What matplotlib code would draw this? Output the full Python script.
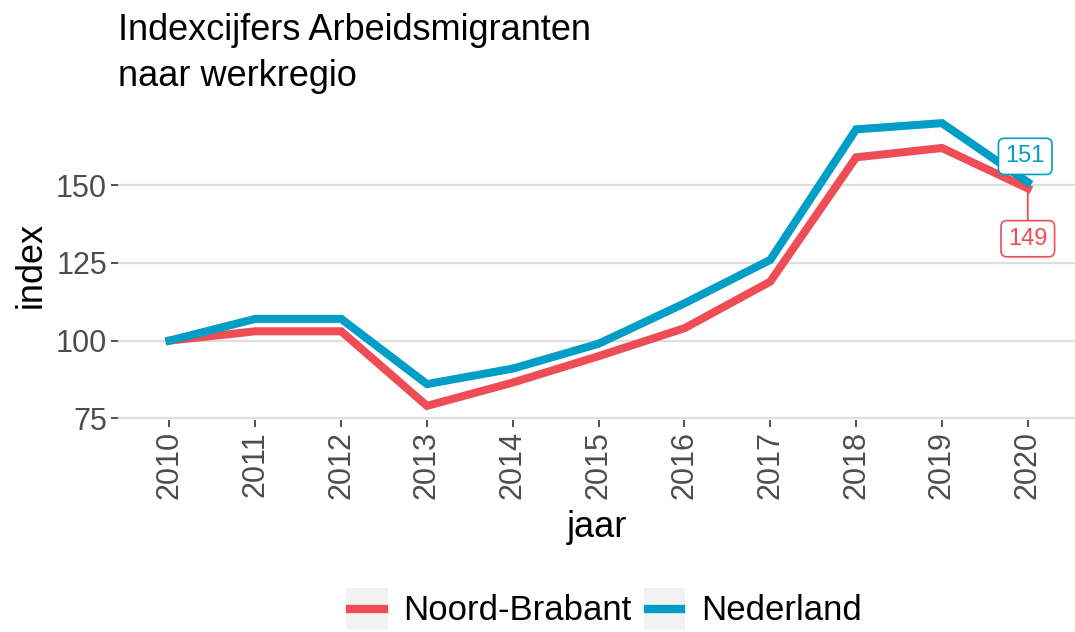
import numpy as np
import matplotlib
matplotlib.use('Agg')
from matplotlib import pyplot as plt
from matplotlib.lines import Line2D
from matplotlib.patches import Rectangle
from matplotlib.legend_handler import HandlerBase

plt.rcParams['font.family'] = ['Liberation Sans', 'DejaVu Sans']

# data
jaar = [2010, 2011, 2012, 2013, 2014, 2015, 2016, 2017, 2018, 2019, 2020]
noord_brabant = [100, 103, 103, 79, 86.5, 95, 104, 119, 159, 162, 149]
nederland = [100, 107, 107, 86, 91, 99, 112, 126, 168, 170, 151]
y_ticks = [75, 100, 125, 150]

red = '#EE4D56'
blue = '#009DC6'


# legend key like ggplot: grey square with a line inside
class KeyHandler(HandlerBase):
    def create_artists(self, legend, orig_handle, xdescent, ydescent, width, height, fontsize, trans):
        bg = Rectangle((-xdescent, -ydescent), width, height, fc='#F2F2F2', ec='none', transform=trans)
        y = -ydescent + height / 2
        ln = Line2D([-xdescent + 0.1 * width, -xdescent + 0.9 * width], [y, y],
                    color=orig_handle.get_color(), lw=orig_handle.get_linewidth(), transform=trans)
        return [bg, ln]


fig = plt.figure(figsize=(10.75, 6.32), dpi=100)
ax = fig.add_axes([118 / 1075, 1 - 420 / 632, (1075 - 118) / 1075, (420 - 109) / 632])

ax.plot(jaar, noord_brabant, color=red, lw=5.8, solid_joinstyle='miter', zorder=3)
ax.plot(jaar, nederland, color=blue, lw=5.8, solid_joinstyle='miter', zorder=3)

ax.set_xlim(2009.4, 2020.55)
ax.set_ylim(74.45, 174.55)
ax.set_xticks(jaar)
ax.set_xticklabels([str(j) for j in jaar], rotation=90, fontsize=22, color='#4D4D4D')
ax.set_yticks(y_ticks)
ax.set_yticklabels([str(v) for v in y_ticks], fontsize=22, color='#4D4D4D')
ax.tick_params(axis='both', length=5, width=1.2, color='#333333', pad=3)
for s in ax.spines.values():
    s.set_visible(False)
ax.grid(axis='y', color='#DEDEDE', lw=1.6)
ax.grid(axis='x', visible=False)
ax.set_axisbelow(True)

ax.set_xlabel('jaar', fontsize=26, labelpad=8)
ax.set_ylabel('index', fontsize=26, labelpad=5)

# end labels
ax.annotate(str(nederland[-1]), xy=(jaar[-1], nederland[-1]), xytext=(jaar[-1] - 0.03, 159.3),
            ha='center', va='center', fontsize=17, color=blue, zorder=5,
            bbox=dict(boxstyle='round,pad=0.3,rounding_size=0.25', fc='white', ec=blue, lw=1.2))
ax.annotate(str(noord_brabant[-1]), xy=(jaar[-1], noord_brabant[-1]), xytext=(jaar[-1], 132.8),
            ha='center', va='center', fontsize=17, color=red, zorder=5,
            arrowprops=dict(arrowstyle='-', color=red, lw=1.3, shrinkA=0, shrinkB=0),
            bbox=dict(boxstyle='round,pad=0.3,rounding_size=0.25', fc='white', ec=red, lw=1.2))

fig.text(118 / 1075, 1 - 30 / 632, 'Indexcijfers Arbeidsmigranten', fontsize=26, va='center', ha='left')
fig.text(118 / 1075, 1 - 76 / 632, 'naar werkregio', fontsize=26, va='center', ha='left')

handles = [Line2D([], [], color=red, lw=6), Line2D([], [], color=blue, lw=6)]
leg = fig.legend(handles, ['Noord-Brabant', 'Nederland'], loc='center',
                 bbox_to_anchor=(604 / 1075, 1 - 609 / 632), ncol=2, frameon=False, fontsize=25,
                 handlelength=1.2, handleheight=1.5, columnspacing=0.35, handletextpad=0.45,
                 handler_map={Line2D: KeyHandler()})

fig.savefig('out.png', dpi=100)
